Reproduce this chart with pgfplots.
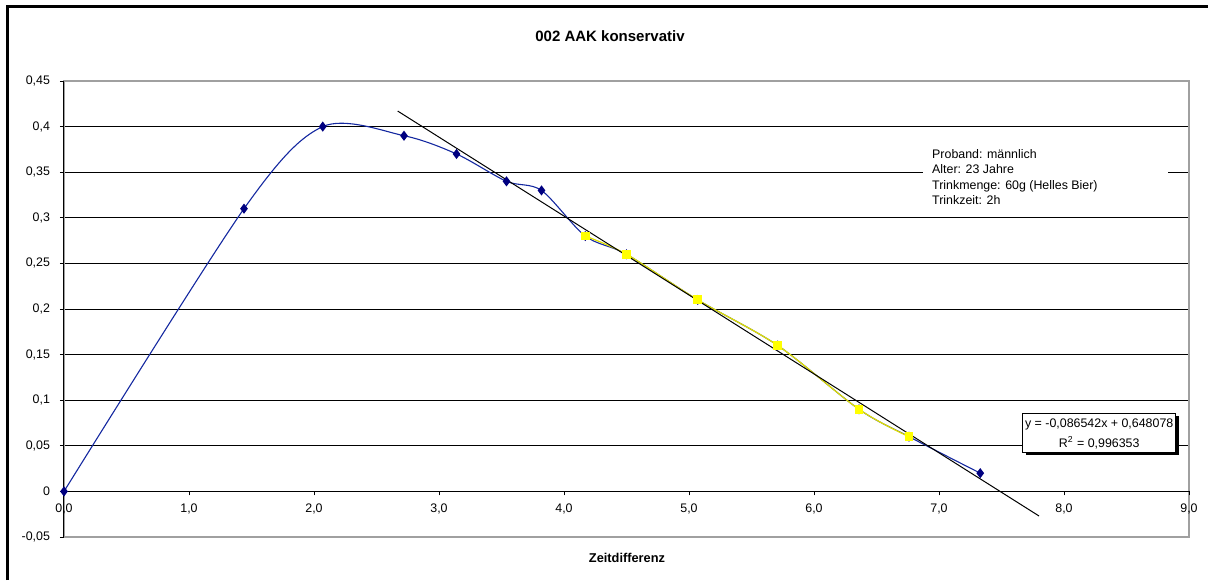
\documentclass[border=0pt]{standalone}
\usepackage{fontspec}
\setmainfont{Liberation Sans}
\usepackage{pgfplots}
\pgfplotsset{compat=1.18}

\definecolor{navyblue}{RGB}{0,0,128}
\definecolor{lineblue}{RGB}{20,40,160}
\definecolor{ylw}{RGB}{255,255,0}
\definecolor{ylwline}{RGB}{225,225,0}
\definecolor{frame}{RGB}{160,160,160}

\newcommand{\chartfont}{\fontsize{6.2}{7.6}\selectfont}

\begin{document}
\begin{tikzpicture}
\path[use as bounding box] (-32pt,-21.5pt) rectangle (572pt,268.5pt);
\draw[line width=1.5pt] (-28pt,-21.5pt) -- (-28pt,265pt) -- (572pt,265pt);

% background: gray plot-area border and the horizontal grid
\begin{axis}[
  scale only axis, width=562.5pt, height=228pt,
  xmin=0, xmax=9, ymin=-0.05, ymax=0.45,
  axis line style={frame, line width=0.8pt},
  xtick=\empty,
  ytick={-0.05,0,0.05,0.1,0.15,0.2,0.25,0.3,0.35,0.4,0.45},
  yticklabels=\empty, major tick length=0pt,
  ymajorgrids, grid style={black, line width=0.45pt},
]
\end{axis}

% the info text box hides part of the 0,35 grid line
\fill[white] (429.5pt,162.5pt) rectangle (552pt,198.5pt);
\node[anchor=west, align=left, inner sep=0pt, font=\chartfont] at (433.9pt,180pt)
  {Proband: männlich\\Alter: 23 Jahre\\Trinkmenge: 60g (Helles Bier)\\Trinkzeit: 2h};

\begin{axis}[
  scale only axis, width=562.5pt, height=228pt,
  xmin=0, xmax=9, ymin=-0.05, ymax=0.45,
  axis x line=middle, axis y line=left,
  axis line style={black, line width=0.5pt, -},
  hide obscured x ticks=false, hide obscured y ticks=false,
  xtick={0,1,2,3,4,5,6,7,8,9},
  ytick={-0.05,0,0.05,0.1,0.15,0.2,0.25,0.3,0.35,0.4,0.45},
  tick align=outside, major tick length=2pt,
  tick style={black, line width=0.4pt},
  ticklabel style={font=\chartfont},
  xticklabel style={yshift=-0.5pt, /pgf/number format/.cd, fixed, fixed zerofill, precision=1, use comma, assume math mode=true},
  yticklabel style={xshift=-1.5pt, /pgf/number format/.cd, fixed, precision=2, use comma, assume math mode=true},
  clip=false,
]
\addplot[lineblue, line width=0.55pt, smooth, mark=diamond*, mark size=2.1pt,
  mark options={fill=navyblue, draw=navyblue}] coordinates {
  (0,0) (1.44,0.31) (2.07,0.40) (2.72,0.39) (3.14,0.37) (3.54,0.34) (3.82,0.33)
  (4.17,0.28) (4.50,0.26) (5.07,0.21) (5.71,0.16) (6.36,0.09) (6.76,0.06) (7.33,0.02)
};
\addplot[ylwline, line width=0.6pt, smooth, mark=square*, mark size=1.9pt,
  mark options={fill=ylw, draw=ylw}] coordinates {
  (4.17,0.28) (4.50,0.26) (5.07,0.21) (5.71,0.16) (6.36,0.09) (6.76,0.06)
};
% linear trend line of the yellow series
\addplot[black, line width=0.5pt] coordinates {(2.67,0.417011) (7.80,-0.026950)};
\end{axis}

\node[font=\bfseries\fontsize{7.5}{9}\selectfont] at (273pt,250.2pt) {002 AAK konservativ};
\node[font=\bfseries\fontsize{6.4}{7.6}\selectfont] at (281.5pt,-10.5pt) {Zeitdifferenz};

% equation box with shadow
\fill[black] (480.8pt,40.8pt) rectangle (557.3pt,60.5pt);
\draw[black, line width=0.4pt, fill=white] (479.4pt,42.2pt) rectangle (555.9pt,61.9pt);
\node[font=\chartfont, inner sep=0pt] at (517.6pt,56.3pt) {y = -0,086542x + 0,648078};
\node[font=\chartfont, inner sep=0pt] at (517.6pt,47.1pt) {R\textsuperscript{2} = 0,996353};
\end{tikzpicture}
\end{document}
